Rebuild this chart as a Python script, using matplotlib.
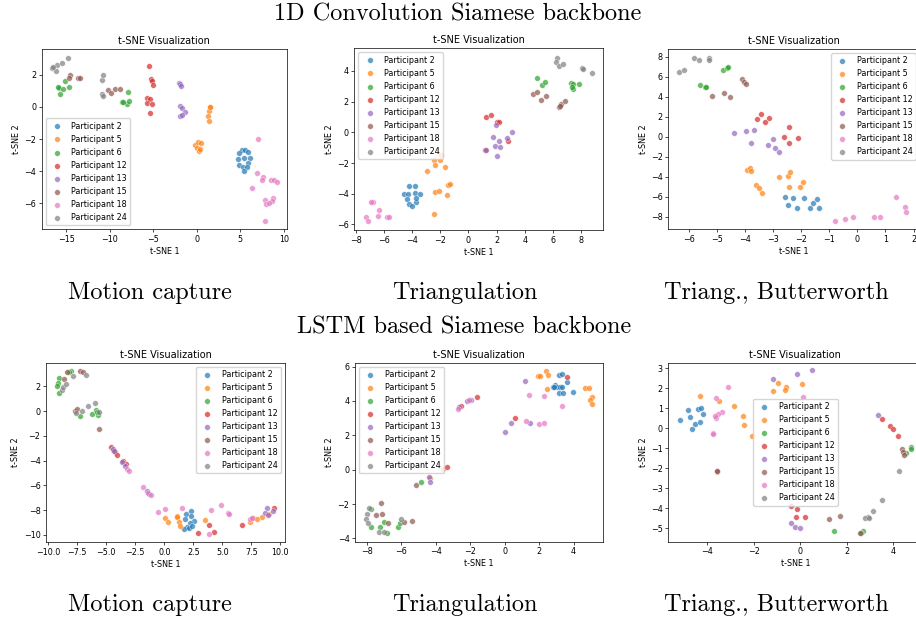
import matplotlib
matplotlib.use('Agg')
import matplotlib.pyplot as plt

participants = [2, 5, 6, 12, 13, 15, 18, 24]
colors = ['tab:blue', 'tab:orange', 'tab:green', 'tab:red',
          'tab:purple', 'tab:brown', 'tab:pink', 'tab:gray']

# 1D conv backbone, motion capture
conv_mocap = {
    2: [(5.17, -2.68), (5.56, -2.68), (5.9, -2.8), (4.87, -2.88), (6.13, -3.15), (4.71, -3.24),
        (5.36, -3.2), (5.9, -3.5), (4.79, -3.61), (5.29, -3.71), (5.71, -3.71), (5.36, -3.96)],
    5: [(1.49, -0.02), (1.42, -0.25), (1.3, -0.56), (1.42, -0.85), (1.55, 0.02),
        (-0.23, -2.37), (0.15, -2.2), (0.46, -2.22), (-0.04, -2.53), (0.27, -2.72), (0.34, -2.61)],
    6: [(-15.17, 1.6), (-15.86, 1.18), (-15.36, 1.12), (-14.71, 1.24), (-15.75, 0.79), (-15.94, 1.22),
        (-7.97, 0.95), (-8.58, 0.29), (-8.08, 0.17), (-7.82, 0.39), (-8.47, 0.31)],
    12: [(-5.48, 2.55), (-5.33, 1.74), (-5.21, 1.64), (-5.02, 1.39), (-5.79, 0.56), (-5.4, 0.48),
         (-5.75, 0.23), (-5.21, 0.19), (-5.44, -0.35)],
    13: [(-2.07, 1.51), (-1.95, 1.41), (-1.88, 1.33), (-1.95, 0.06), (-1.76, -0.08), (-1.34, -0.31),
         (-1.95, -0.56), (-1.72, -0.48)],
    15: [(-14.6, 1.99), (-14.7, 1.83), (-13.64, 1.8), (-13.45, 1.8), (-10.2, 1.06), (-9.9, 0.85),
         (-9.4, 1.1), (-8.9, 1.14)],
    18: [(7.01, -2.01), (6.93, -4.09), (7.55, -4.36), (7.51, -4.52), (8.51, -4.56), (8.85, -4.56),
         (9.16, -4.69), (6.32, -5.06), (7.85, -5.79), (8.7, -5.68), (8.58, -5.83), (7.89, -6.04),
         (8.31, -6.0), (7.85, -7.07)],
    24: [(-16.7, 2.45), (-16.1, 2.63), (-15.55, 2.74), (-14.8, 3.07), (-16.25, 2.26), (-16.5, 2.5),
         (-10.96, 1.68), (-10.77, 1.97), (-10.96, 0.81), (-10.77, 0.71)],
}

# 1D conv backbone, triangulation
conv_tri = {
    2: [(-4.54, -4.01), (-4.26, -4.01), (-4.18, -3.49), (-3.76, -3.49), (-4.37, -4.36), (-3.78, -3.97),
        (-3.43, -4.01), (-3.69, -4.56), (-4.21, -4.66), (-4.0, -4.79), (-3.71, -4.27)],
    5: [(-2.96, -2.49), (-2.41, -1.82), (-2.39, -2.15), (-1.94, -1.48), (-2.01, -1.78), (-1.63, -2.28),
        (-2.36, -3.88), (-2.08, -3.8), (-1.42, -3.45), (-1.3, -3.38), (-1.51, -4.06), (-2.46, -5.29)],
    6: [(4.89, 3.54), (5.2, 3.06), (5.44, 3.3), (7.26, 3.23), (7.4, 3.15), (7.45, 2.8),
        (7.87, 3.17), (7.38, 2.97)],
    12: [(1.23, 0.98), (1.61, 1.15), (2.01, 0.67), (2.15, 0.67), (2.81, -0.56), (1.18, -1.13)],
    13: [(1.94, 0.48), (1.73, -0.28), (2.15, -0.54), (3.07, 0.0), (2.74, -0.35), (1.91, -0.87),
         (2.25, -0.98), (2.03, -1.54), (1.23, -1.17)],
    15: [(4.61, 2.49), (4.89, 2.6), (5.13, 2.08), (5.53, 2.39), (6.41, 1.63), (6.6, 1.84),
         (6.86, 2.04), (6.5, 1.71)],
    18: [(-6.78, -4.56), (-6.36, -5.05), (-6.43, -5.44), (-7.26, -5.49), (-7.14, -5.75),
         (-5.74, -5.53), (-5.6, -5.51), (-6.88, -4.56)],
    24: [(6.26, 4.84), (6.22, 4.58), (6.45, 4.32), (6.69, 4.43), (8.06, 4.16), (8.13, 4.1), (8.77, 3.88)],
}

# 1D conv backbone, triangulation + butterworth
conv_butter = {
    2: [(-2.56, -6.0), (-2.46, -6.87), (-2.3, -6.17), (-2.16, -7.1), (-1.91, -6.17), (-1.69, -7.1),
        (-1.57, -6.6), (-1.43, -6.23), (-1.36, -7.1)],
    5: [(-3.93, -3.33), (-3.84, -3.13), (-3.78, -3.4), (-3.61, -4.87), (-3.5, -5.17), (-3.41, -5.67),
        (-2.8, -4.0), (-2.48, -3.93), (-2.41, -3.5), (-2.44, -5.07), (-2.05, -5.07), (-1.94, -4.57)],
    6: [(-5.6, 5.13), (-5.42, 5.0), (-5.4, 4.93), (-4.79, 6.67), (-4.65, 6.83), (-4.61, 7.0)],
    12: [(-3.43, 2.27), (-3.56, 1.73), (-3.3, 1.43), (-3.15, 1.9), (-2.42, 0.93), (-2.61, -0.07),
         (-2.44, -0.67), (-2.11, -0.17)],
    13: [(-4.39, 0.33), (-3.97, 0.6), (-3.69, 0.67), (-3.79, -0.67), (-3.02, -0.2), (-3.18, -0.83),
         (-2.94, -1.13), (-2.8, -1.53)],
    15: [(-5.17, 4.03), (-4.74, 4.33), (-4.52, 3.93), (-4.12, 5.73), (-4.05, 5.5), (-3.97, 5.27)],
    18: [(-0.79, -8.4), (-0.45, -8.2), (-0.14, -8.07), (0.6, -8.07), (0.79, -8.07), (1.37, -6.0),
         (1.69, -7.0), (1.73, -7.53)],
    24: [(-6.34, 6.47), (-6.17, 6.67), (-5.82, 7.9), (-5.63, 7.67), (-5.28, 7.9), (-5.27, 7.67)],
}

# LSTM backbone, motion capture
lstm_mocap = {
    2: [(1.84, -8.33), (2.27, -8.09), (1.78, -8.74), (2.33, -8.47), (2.59, -8.84), (2.21, -9.0),
        (1.98, -9.38), (1.7, -9.52), (2.16, -9.46), (2.36, -9.27)],
    5: [(0.03, -8.66), (0.32, -8.92), (1.06, -8.47), (1.12, -8.58), (1.26, -8.95), (1.35, -9.27),
        (3.48, -8.82), (7.39, -8.92), (7.67, -8.66), (7.96, -8.68), (8.39, -8.58), (9.02, -8.31)],
    6: [(-9.05, 2.69), (-9.14, 2.23), (-9.22, 2.02), (-9.05, 1.48), (-8.07, 3.25), (-8.19, 3.15),
        (-7.27, -0.4), (-6.26, -0.24), (-5.92, 0.08), (-5.69, -0.32), (-5.83, -0.05)],
    12: [(-4.63, -2.88), (-4.4, -3.15), (-4.28, -3.33), (-4.11, -3.58), (-3.53, -4.03), (-3.3, -4.27),
         (9.48, -7.8), (6.67, -9.22), (3.88, -9.19), (4.31, -9.73), (2.93, -9.87)],
    13: [(-4.45, -3.04), (-4.34, -3.23), (-3.62, -4.11), (-3.39, -4.44), (-1.49, -6.48), (-1.29, -6.69),
         (8.82, -7.85), (9.4, -8.06), (8.71, -8.25), (8.91, -8.39)],
    15: [(-8.62, 2.58), (-8.42, 3.12), (-7.27, 3.25), (-7.04, 3.17), (-7.7, 0.03), (-7.5, 0.19),
         (-5.66, -1.48)],
    18: [(-1.81, -6.1), (-1.41, -6.59), (-1.18, -6.75), (-3.25, -4.7), (-3.07, -4.81), (-0.57, -8.17),
         (0.09, -7.88), (1.49, -7.8), (3.85, -9.92), (3.99, -7.96), (4.91, -7.58), (5.46, -8.25),
         (5.6, -8.31), (7.39, -8.68), (7.59, -8.6)],
    24: [(-8.85, 1.69), (-8.71, 1.96), (-8.51, 2.15), (-7.84, 2.85), (-6.75, 2.9), (-7.61, -0.13),
         (-7.13, 0.0), (-6.55, 0.4), (-5.95, 0.62), (-5.6, -0.08)],
}

# LSTM backbone, triangulation
lstm_tri = {
    2: [(3.13, 5.51), (3.35, 5.55), (2.94, 4.93), (3.05, 4.8), (3.21, 4.83), (3.31, 4.83), (2.82, 4.8),
        (3.17, 4.49), (3.4, 4.49), (3.6, 5.13), (3.98, 4.52), (2.86, 4.83)],
    5: [(2.38, 5.77), (1.93, 5.46), (2.05, 5.48), (2.53, 5.53), (2.44, 4.68), (4.66, 4.74), (4.89, 4.74),
        (5.05, 4.21), (4.95, 4.04), (5.07, 3.81), (-3.6, 0.02), (-4.33, -0.5)],
    6: [(-4.84, -0.74), (-7.76, -2.31), (-7.78, -3.32), (-7.23, -3.36), (-7.02, -3.07), (-6.83, -3.71),
        (-6.21, -3.32), (-6.07, -3.13)],
    12: [(3.6, 5.38), (0.6, 3.03), (-1.59, 4.23), (-2.55, 3.71), (-3.37, 0.17)],
    13: [(1.2, 5.15), (0.0, 2.21), (0.39, 2.74), (1.47, 2.72), (-1.95, 4.06), (-2.17, 4.0),
         (-2.63, 3.63), (-4.37, -0.41), (-4.33, -0.7)],
    15: [(-5.15, -0.89), (-7.18, -1.96), (-7.47, -2.62), (-7.1, -2.58), (-6.77, -3.13), (-5.84, -3.03),
         (-5.38, -2.97)],
    18: [(1.41, 4.37), (2.28, 4.29), (3.31, 3.71), (1.22, 2.83), (2.01, 2.64), (2.3, 2.72),
         (-2.71, 3.55), (-2.09, 4.04)],
    24: [(-7.85, -2.25), (-8.01, -2.58), (-8.05, -2.85), (-7.95, -3.09), (-7.31, -3.65), (-7.0, -3.65),
         (-6.03, -2.85)],
}

# LSTM backbone, triangulation + butterworth
lstm_butter = {
    2: [(-5.15, 0.42), (-4.82, 0.93), (-4.73, 0.57), (-4.63, -0.05), (-4.52, 0.23), (-4.37, 0.98),
        (-4.25, 1.03), (-4.28, 0.32), (-4.15, 0.7)],
    5: [(-4.3, 1.63), (-3.49, 1.37), (-2.84, 1.12), (-2.45, 0.62), (-2.42, 0.15), (-2.07, -0.37),
        (-1.16, 1.88), (-0.95, 2.28), (-0.63, 2.08), (-0.66, 1.92), (0.09, 2.2), (-3.56, -2.17)],
    6: [(1.45, -5.12), (2.7, -5.15), (2.62, -5.22), (4.75, -0.95), (4.75, -1.05), (4.53, -1.22)],
    12: [(3.5, 0.47), (3.84, 0.12), (3.97, -0.05), (4.19, -0.38), (-0.38, -3.87), (-0.13, -4.02),
         (-0.19, -4.42), (0.19, -4.42)],
    13: [(-1.16, 2.45), (-0.13, 2.72), (0.51, 2.92), (-3.59, -2.13), (3.33, 0.65), (-0.41, -4.72),
         (-0.23, -4.95), (0.01, -4.97)],
    15: [(4.35, -1.02), (4.41, -1.18), (4.46, -1.32), (1.23, -4.53), (1.69, -4.38), (2.57, -5.25),
         (-3.56, -2.13)],
    18: [(-3.08, 2.07), (0.1, 1.58), (-3.62, 1.5), (-3.34, 0.82), (-3.53, 0.7), (-3.61, 0.5),
         (-3.65, 0.62), (-3.74, -0.22), (-3.74, -0.3)],
    24: [(4.24, -2.13), (3.53, -3.57), (3.11, -4.15), (2.92, -4.43), (2.8, -4.47), (2.96, -4.47)],
}

plt.rcParams['font.size'] = 5.8
plt.rcParams['axes.titlesize'] = 7
plt.rcParams['axes.linewidth'] = 0.5
plt.rcParams['xtick.major.size'] = 2
plt.rcParams['ytick.major.size'] = 2
plt.rcParams['xtick.major.width'] = 0.5
plt.rcParams['ytick.major.width'] = 0.5
plt.rcParams['xtick.major.pad'] = 2
plt.rcParams['ytick.major.pad'] = 2
plt.rcParams['axes.labelpad'] = 2.3
plt.rcParams['axes.titlepad'] = 3.5
plt.rcParams['legend.fontsize'] = 5.8

fig = plt.figure(figsize=(9.16, 6.22), dpi=100)

# (data, axes rect, xlim, ylim, legend loc)
panels = [
    (conv_mocap, [0.0455, 0.6318, 0.268, 0.289], (-17.85, 10.38), (-7.6, 3.59), 'lower left'),
    (conv_tri, [0.3868, 0.6302, 0.2718, 0.2921], (-8.09, 9.57), (-6.36, 5.47), 'upper left'),
    (conv_butter, [0.7296, 0.6318, 0.2745, 0.2894], (-6.73, 2.22), (-9.23, 8.77), 'upper right'),
    (lstm_mocap, [0.0502, 0.1281, 0.2609, 0.2887], (-10.2, 10.4), (-10.6, 3.9), 'upper right'),
    (lstm_tri, [0.3876, 0.1291, 0.2711, 0.2878], (-8.68, 5.73), (-4.19, 6.23), 'upper left'),
    (lstm_butter, [0.7296, 0.1291, 0.2775, 0.2878], (-5.66, 5.25), (-5.67, 3.28), 'center'),
]

for data, rect, xl, yl, loc in panels:
    ax = fig.add_axes(rect)
    for p, c in zip(participants, colors):
        pts = data[p]
        xs = [q[0] for q in pts]
        ys = [q[1] for q in pts]
        ax.scatter(xs, ys, s=17, c=c, alpha=0.7, edgecolors='white', linewidths=0.4,
                   label='Participant ' + str(p))
    ax.set_xlim(xl)
    ax.set_ylim(yl)
    ax.set_title('t-SNE Visualization')
    ax.set_xlabel('t-SNE 1')
    ax.set_ylabel('t-SNE 2')
    ax.legend(loc=loc, frameon=True, edgecolor='#cccccc', framealpha=0.8)

cm = 'cmr10'
fig.text(0.500, 0.976, '1D Convolution Siamese backbone', ha='center', va='center', fontsize=17.5, family=cm)
fig.text(0.507, 0.474, 'LSTM based Siamese backbone', ha='center', va='center', fontsize=17.5, family=cm)
for y in [0.529, 0.027]:
    fig.text(0.164, y, 'Motion capture', ha='center', va='center', fontsize=17.5, family=cm)
    fig.text(0.508, y, 'Triangulation', ha='center', va='center', fontsize=17.5, family=cm)
    fig.text(0.848, y, 'Triang., Butterworth', ha='center', va='center', fontsize=17.5, family=cm)

plt.savefig('out.png', dpi=100)
